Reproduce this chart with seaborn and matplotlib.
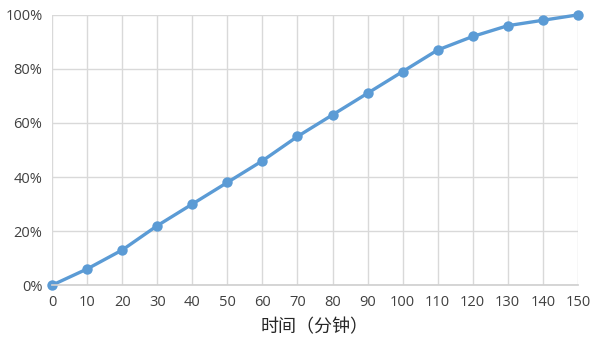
import matplotlib
matplotlib.use("Agg")
import matplotlib.pyplot as plt
import seaborn as sns
import pandas as pd
from matplotlib.ticker import FuncFormatter, MultipleLocator

minutes = [0, 10, 20, 30, 40, 50, 60, 70, 80, 90, 100, 110, 120, 130, 140, 150]
share = [0, 6, 13, 22, 30, 38, 46, 55, 63, 71, 79, 87, 92, 96, 98, 100]
xlabel = "时间（分钟）"

df = pd.DataFrame({"minutes": minutes, "share": share})

sns.set_theme(style="whitegrid")
plt.rcParams['font.family'] = ['Open Sans', 'Noto Sans CJK SC', 'DejaVu Sans']

fig = plt.figure(figsize=(6, 3.46), dpi=100)
ax = fig.add_axes([0.087, 0.176, 0.876, 0.781])

sns.lineplot(data=df, x="minutes", y="share", ax=ax, color="#5B9BD5",
             linewidth=2.4, marker="o", markersize=7.5, markeredgewidth=0,
             clip_on=False)

ax.set_xlim(0, 150)
ax.set_ylim(0, 100)
ax.xaxis.set_major_locator(MultipleLocator(10))
ax.yaxis.set_major_locator(MultipleLocator(20))
ax.yaxis.set_major_formatter(FuncFormatter(lambda v, p: f"{int(v)}%"))
ax.grid(True, color="#d9d9d9", linewidth=1)
for s in ["top", "right", "left"]:
    ax.spines[s].set_visible(False)
ax.spines["bottom"].set_color("#d0d0d0")
ax.tick_params(axis="both", length=0, labelsize=10.5, colors="#404040", pad=7)
ax.set_ylabel("")
ax.set_xlabel(xlabel, fontsize=13, color="#262626", family=['Noto Sans CJK SC', 'DejaVu Sans'], labelpad=6)

fig.savefig("out.png", dpi=100)
